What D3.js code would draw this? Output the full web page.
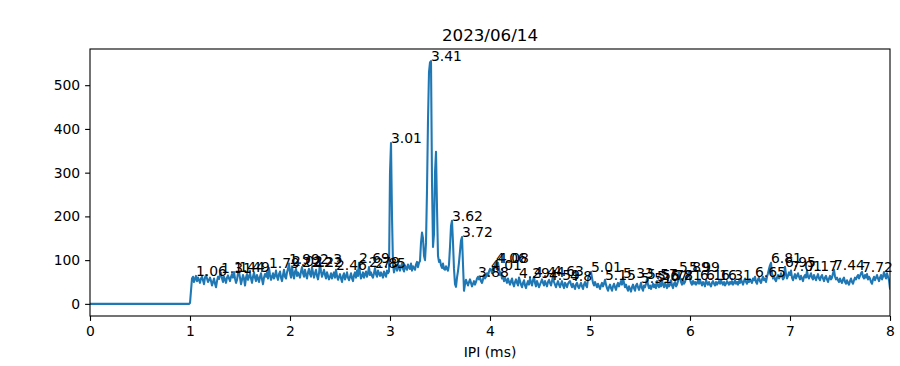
<!DOCTYPE html>
<html>
<head>
<meta charset="utf-8">
<script src="https://cdn.jsdelivr.net/npm/d3@7"></script>
<style>
  body { margin: 0; background: #fff; }
  svg { font-family: "DejaVu Sans", sans-serif; }
  .tick text { font-size: 13.9px; fill: #000; }
  .peak-label { font-size: 13.9px; fill: #000; }
</style>
</head>
<body>
<svg id="chart"></svg>
<script>
// histogram of IPI, bins of 0.01 ms starting at 0
const binStep = 0.01;
const counts = [
  0,0,0,0,0,0,0,0,0,0, 0,0,0,0,0,0,0,0,0,0, 0,0,0,0,0,0,0,0,0,0, 0,0,0,0,0,0,0,0,0,0,
  0,0,0,0,0,0,0,0,0,0, 0,0,0,0,0,0,0,0,0,0, 0,0,0,0,0,0,0,0,0,0, 0,0,0,0,0,0,0,0,0,0,
  0,0,0,0,0,0,0,0,0,0, 0,0,0,0,0,0,0,0,0,0,
  2, 30, 58, 62, 50, 57, 64, 52, 60, 55,
  48, 58, 62, 54, 45, 60, 66, 58, 50, 55,
  60, 52, 42, 50, 58, 46, 38, 52, 62, 57,
  66, 71, 58, 50, 62, 56, 48, 60, 65, 58,
  52, 62, 68, 60, 73, 58, 48, 55, 70, 73,
  60, 45, 55, 66, 58, 42, 60, 68, 55, 62,
  70, 58, 48, 62, 72, 60, 52, 66, 58, 50,
  62, 70, 56, 45, 60, 68, 62, 72, 58, 82,
  66, 55, 62, 70, 58, 64, 76, 62, 55, 68,
  74, 60, 52, 66, 78, 62, 58, 72, 80, 92,
  70, 60, 86, 68, 58, 74, 80, 64, 72, 66,
  60, 74, 84, 70, 62, 78, 66, 58, 72, 80,
  68, 62, 84, 72, 60, 70, 78, 64, 56, 70,
  92, 74, 62, 70, 78, 66, 58, 72, 64, 56,
  62, 70, 58, 66, 72, 60, 78, 64, 55, 62,
  68, 58, 50, 64, 70, 56, 62, 72, 60, 54,
  62, 70, 58, 52, 66, 72, 60, 76, 64, 94,
  70, 58, 64, 72, 60, 68, 74, 62, 70, 84,
  66, 72, 64, 60, 70, 82, 68, 62, 76, 70,
  64, 72, 66, 60, 74, 68, 62, 76, 70, 74,
  300, 368, 200, 90, 72, 84, 90, 76, 82, 88,
  76, 86, 92, 80, 74, 88, 82, 78, 90, 84,
  80, 92, 76, 86, 82, 78, 90, 96, 84, 94,
  98, 140, 163, 150, 110, 100, 140, 260, 420, 530,
  552, 555, 280, 130, 160, 300, 348, 220, 110, 96,
  100, 88, 82, 92, 80, 78, 86, 80, 76, 90,
  130, 178, 190, 140, 80, 45, 39, 60, 75, 95,
  120, 145, 153, 90, 30, 45, 55, 48, 42, 50,
  56, 48, 40, 46, 52, 44, 50, 58, 62, 56,
  60, 52, 48, 56, 66, 58, 62, 70, 64, 74,
  80, 78, 70, 84, 76, 88, 94, 86, 94, 80,
  66, 72, 58, 64, 52, 60, 54, 48, 58, 50,
  44, 52, 58, 46, 40, 50, 56, 48, 42, 60,
  52, 44, 38, 48, 54, 42, 36, 46, 52, 44,
  58, 50, 42, 54, 62, 48, 40, 52, 46, 38,
  44, 50, 56, 48, 42, 52, 46, 40, 50, 55,
  48, 42, 52, 64, 50, 44, 38, 46, 52, 44,
  38, 46, 52, 42, 36, 48, 44, 38, 46, 50,
  52, 44, 38, 46, 40, 34, 44, 48, 40, 36,
  42, 48, 40, 34, 44, 50, 42, 38, 58, 66,
  70, 73, 60, 48, 42, 50, 44, 38, 46, 40,
  34, 42, 48, 40, 46, 55, 44, 36, 30, 38,
  44, 36, 30, 40, 46, 38, 32, 42, 48, 40,
  46, 52, 44, 60, 48, 38, 44, 36, 30, 40,
  34, 28, 38, 44, 36, 30, 42, 46, 38, 32,
  40, 48, 36, 30, 42, 38, 46, 57, 44, 36,
  42, 34, 40, 46, 38, 44, 36, 52, 42, 38,
  46, 40, 54, 44, 38, 48, 42, 36, 46, 40,
  44, 54, 42, 36, 46, 50, 40, 44, 52, 73,
  60, 50, 44, 52, 46, 50, 58, 62, 68, 73,
  56, 48, 44, 52, 46, 50, 44, 48, 54, 46,
  55, 48, 42, 50, 46, 40, 55, 48, 44, 50,
  44, 40, 48, 52, 46, 42, 50, 44, 48, 52,
  46, 55, 48, 44, 50, 42, 46, 52, 48, 44,
  50, 46, 52, 44, 48, 54, 46, 50, 44, 52,
  48, 56, 50, 44, 52, 58, 50, 46, 54, 50,
  56, 52, 48, 58, 54, 62, 50, 46, 56, 60,
  52, 48, 56, 62, 54, 58, 50, 62, 70, 80,
  88, 94, 70, 58, 64, 56, 52, 60, 66, 58,
  62, 70, 64, 56, 60, 85, 68, 58, 64, 72,
  66, 76, 60, 54, 62, 68, 58, 64, 70, 62,
  56, 64, 58, 52, 62, 66, 60, 76, 62, 58,
  64, 70, 60, 56, 66, 60, 54, 62, 68, 58,
  54, 62, 66, 58, 52, 60, 64, 56, 50, 58,
  64, 56, 60, 70, 78, 62, 56, 60, 54, 50,
  58, 52, 48, 56, 60, 50, 46, 54, 48, 44,
  52, 58, 50, 46, 54, 60, 56, 62, 66, 58,
  64, 70, 73, 62, 58, 66, 60, 68, 56, 62,
  58, 50, 46, 56, 62, 54, 60, 66, 58, 52,
  60, 66, 56, 62, 73, 64, 58, 70, 62, 54,
  35
];

// detected peak positions (ms), labelled on the plot
const peaks = [1.06, 1.31, 1.44, 1.49, 1.79, 1.99, 2.02, 2.12, 2.22, 2.3, 2.46,
  2.69, 2.79, 2.85, 3.01, 3.41, 3.62, 3.72, 3.88, 4.01, 4.06, 4.08, 4.29, 4.44,
  4.59, 4.63, 4.8, 5.01, 5.15, 5.33, 5.51, 5.57, 5.67, 5.72, 5.81, 5.89, 5.99,
  6.1, 6.16, 6.31, 6.65, 6.81, 6.95, 7.01, 7.17, 7.44, 7.72];

const xTicks = [0, 1, 2, 3, 4, 5, 6, 7, 8];
const yTicks = [0, 100, 200, 300, 400, 500];
const title = "2023/06/14";
const xLabel = "IPI (ms)";

const W = 900, H = 366;
const margin = {top: 49, right: 10, bottom: 50, left: 90};
const width = W - margin.left - margin.right,
      height = H - margin.top - margin.bottom;

const svg = d3.select("#chart").attr("width", W).attr("height", H);
svg.append("rect").attr("width", W).attr("height", H).attr("fill", "#fff");

const data = counts.map((c, i) => ({ipi: i * binStep, n: c}));

const yMax = d3.max(counts);
const pad = yMax * 0.05;
const x = d3.scaleLinear().domain([0, 8]).range([0, width]);
const y = d3.scaleLinear().domain([-pad, yMax + pad]).range([height, 0]);

const g = svg.append("g").attr("transform", `translate(${margin.left},${margin.top})`);

g.append("defs").append("clipPath").attr("id", "clip")
  .append("rect").attr("width", width).attr("height", height);

g.append("path")
  .datum(data)
  .attr("clip-path", "url(#clip)")
  .attr("fill", "none")
  .attr("stroke", "#1f77b4")
  .attr("stroke-width", 2.08)
  .attr("stroke-linejoin", "round")
  .attr("stroke-linecap", "square")
  .attr("d", d3.line().x(d => x(d.ipi)).y(d => y(d.n)));

g.selectAll(".peak-label")
  .data(peaks)
  .enter().append("text")
  .attr("class", "peak-label")
  .attr("x", d => x(d))
  .attr("y", d => y(counts[Math.round(d / binStep)]))
  .text(d => String(d));

const xAxis = g.append("g")
  .attr("transform", `translate(0,${height})`)
  .call(d3.axisBottom(x).tickValues(xTicks).tickFormat(d3.format("d")).tickSize(4.9).tickPadding(4.9));
const yAxis = g.append("g")
  .call(d3.axisLeft(y).tickValues(yTicks).tickFormat(d3.format("d")).tickSize(4.9).tickPadding(4.9));
[xAxis, yAxis].forEach(a => {
  a.select(".domain").remove();
  a.selectAll(".tick line").attr("stroke", "#000").attr("stroke-width", 1.1);
  a.attr("font-family", null).attr("font-size", null);
});

g.append("rect")
  .attr("width", width).attr("height", height)
  .attr("fill", "none").attr("stroke", "#000").attr("stroke-width", 1.1);

svg.append("text")
  .attr("x", margin.left + width / 2).attr("y", 41)
  .attr("text-anchor", "middle")
  .attr("font-size", 16.7)
  .text(title);

svg.append("text")
  .attr("x", margin.left + width / 2).attr("y", 357)
  .attr("text-anchor", "middle")
  .attr("font-size", 13.9)
  .text(xLabel);
</script>
</body>
</html>
